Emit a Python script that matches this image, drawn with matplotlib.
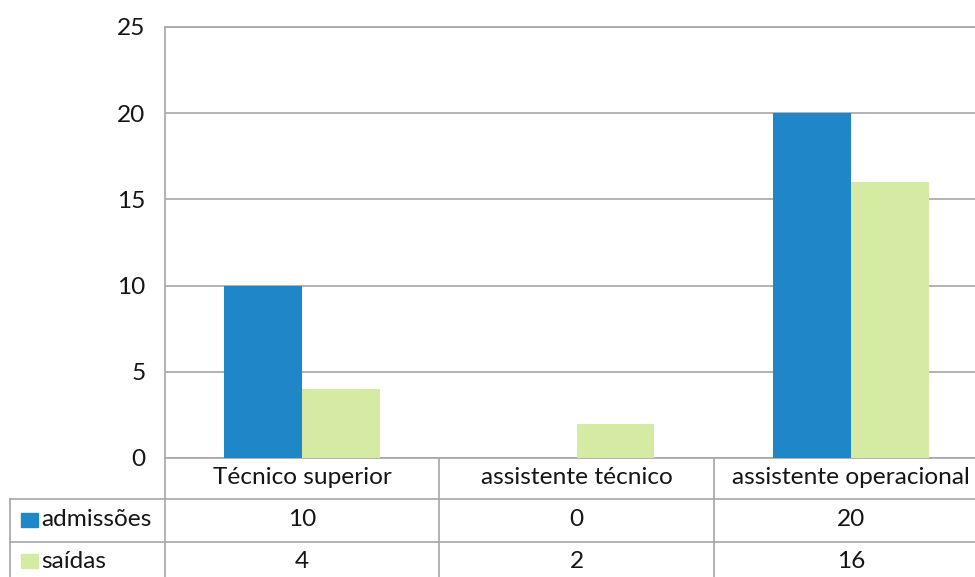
import matplotlib
matplotlib.use("Agg")
import matplotlib.pyplot as plt
import matplotlib.transforms as mtransforms
import numpy as np

# dados do gráfico
categorias = ["Técnico superior", "assistente técnico", "assistente operacional"]
series = ["admissões", "saídas"]
admissoes = [10, 0, 20]
saidas = [4, 2, 16]
yticks = [0, 5, 10, 15, 20, 25]

cor_azul = "#1F87C7"
cor_verde = "#D5EBA3"
cor_linha = "#A6A6A6"
cor_texto = "#151515"

plt.rcParams["font.family"] = ["Lato", "DejaVu Sans"]

W, H = 975, 577
fig = plt.figure(figsize=(W / 100, H / 100), dpi=100)


def fy(py):
    # pixel (a partir do topo) -> fração da figura
    return 1 - py / H


ax = fig.add_axes([165 / W, fy(458), (988 - 165) / W, (458 - 27) / H])
x = np.arange(len(categorias))
largura = 0.284
ax.bar(x - largura / 2, admissoes, largura, color=cor_azul, zorder=3)
ax.bar(x + largura / 2, saidas, largura, color=cor_verde, zorder=3)

fs = 17.6
ax.set_xlim(-0.5, len(categorias) - 0.5)
ax.set_ylim(0, 25)
ax.set_yticks(yticks)
ax.set_yticklabels([str(v) for v in yticks], fontsize=fs, color=cor_texto)
ax.tick_params(axis="y", length=0, pad=14)
ax.set_xticks([])
ax.grid(axis="y", color=cor_linha, linewidth=1.2, zorder=0)
for lado in ["left", "top", "right", "bottom"]:
    ax.spines[lado].set_color(cor_linha)
    ax.spines[lado].set_linewidth(1.2)

# tabela de dados por baixo do gráfico
trans = mtransforms.blended_transform_factory(ax.transData, fig.transFigure)
ff = fig.transFigure
kw_linha = dict(color=cor_linha, linewidth=1.2, clip_on=False)

# linhas horizontais
fig.add_artist(plt.Line2D([10 / W, 1], [fy(499), fy(499)], transform=ff, **kw_linha))
fig.add_artist(plt.Line2D([10 / W, 1], [fy(542), fy(542)], transform=ff, **kw_linha))
# linhas verticais
fig.add_artist(plt.Line2D([10 / W, 10 / W], [fy(499), 0], transform=ff, **kw_linha))
fig.add_artist(plt.Line2D([165 / W, 165 / W], [fy(458), 0], transform=ff, **kw_linha))
for i in range(1, len(categorias)):
    fig.add_artist(plt.Line2D([i - 0.5, i - 0.5], [fy(458), 0], transform=trans, **kw_linha))

for i, cat in enumerate(categorias):
    fig.text(i, fy(478), cat, transform=trans, ha="center", va="center",
             fontsize=fs, color=cor_texto)
    fig.text(i, fy(520), str(admissoes[i]), transform=trans, ha="center", va="center",
             fontsize=fs, color=cor_texto)
    fig.text(i, fy(561), str(saidas[i]), transform=trans, ha="center", va="center",
             fontsize=fs, color=cor_texto)

# chaves da legenda
for nome, cor, py in [(series[0], cor_azul, 520), (series[1], cor_verde, 561)]:
    fig.add_artist(plt.Rectangle((21 / W, fy(py + 7)), 17 / W, 14 / H,
                                 transform=ff, color=cor, clip_on=False))
    fig.text(41 / W, fy(py), nome, transform=ff, ha="left", va="center",
             fontsize=fs, color=cor_texto)

fig.savefig("out.png", dpi=100)
